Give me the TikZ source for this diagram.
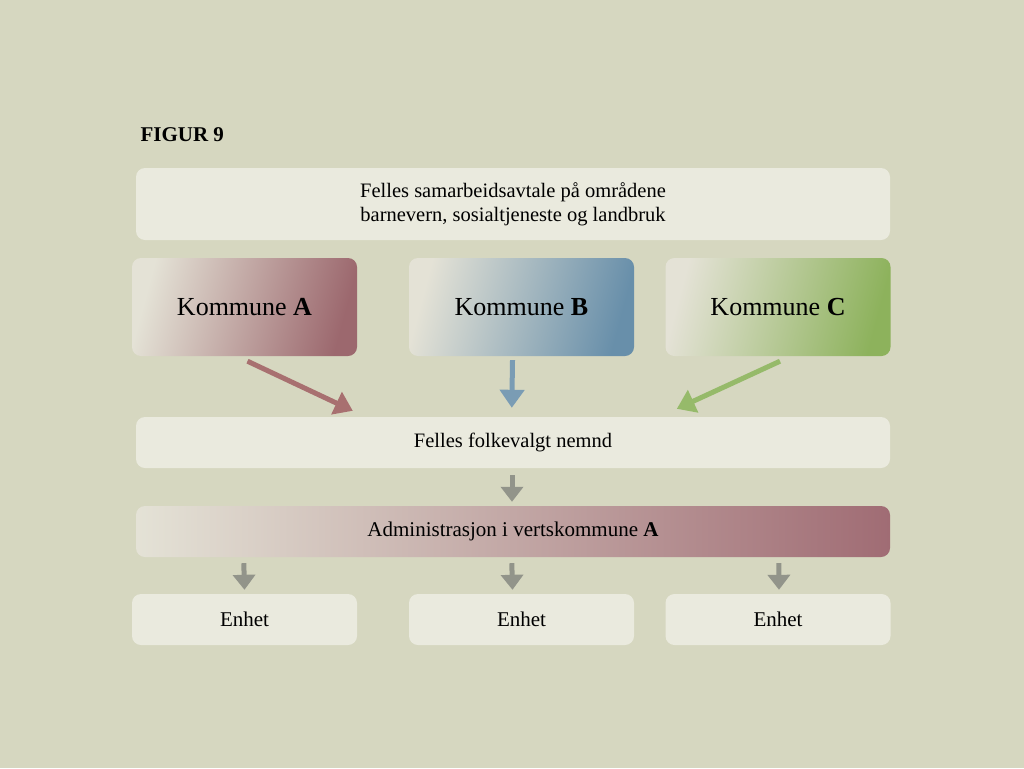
\documentclass[tikz,border=0pt]{standalone}
\usepackage{fontspec}
\setmainfont{Liberation Serif}
\usetikzlibrary{arrows.meta,calc}
\definecolor{bg}{RGB}{214,215,192}
\definecolor{boxfill}{RGB}{234,234,222}
\definecolor{lightend}{RGB}{228,226,214}
\definecolor{kAdark}{RGB}{156,104,110}
\definecolor{kBdark}{RGB}{104,143,170}
\definecolor{kCdark}{RGB}{141,178,92}
\definecolor{admdark}{RGB}{160,108,116}
\definecolor{arrA}{RGB}{168,112,112}
\definecolor{arrB}{RGB}{122,156,180}
\definecolor{arrC}{RGB}{150,186,106}
\definecolor{arrG}{RGB}{146,148,138}
\tikzset{
  x=1pt,y=-1pt,
  wide/.style={rounded corners=9pt, minimum width=754pt, inner sep=0pt, text=black},
  kbox/.style={rounded corners=9pt, minimum width=225pt, minimum height=98pt, inner sep=0pt, font=\fontsize{26}{30}\selectfont},
  ebox/.style={rounded corners=9pt, fill=boxfill, minimum width=225pt, minimum height=51pt, inner sep=0pt, font=\fontsize{21}{24}\selectfont},
  flow/.style={line width=5pt, -{Triangle[width=24pt,length=18pt]}},
  gflow/.style={line width=5pt, draw=arrG, -{Triangle[width=22pt,length=15pt]}}
}
\begin{document}
\begin{tikzpicture}
\fill[bg] (0,0) rectangle (1024,768);
\useasboundingbox (0,0) rectangle (1024,768);
\node[anchor=west, font=\fontsize{21}{24}\selectfont\bfseries] (fig) at (137,135) {FIGUR 9};
\node[wide, fill=boxfill, minimum height=72pt, align=center, font=\fontsize{20.5}{24}\selectfont] (top) at (513,204) {Felles samarbeidsavtale på områdene\\barnevern, sosialtjeneste og landbruk};
\node[kbox, left color=lightend, right color=kAdark, shading angle=75] (kA) at (244.5,307) {Kommune \textbf{A}};
\node[kbox, left color=lightend, right color=kBdark, shading angle=75] (kB) at (521.5,307) {Kommune \textbf{B}};
\node[kbox, left color=lightend, right color=kCdark, shading angle=75] (kC) at (778,307) {Kommune \textbf{C}};
\node[wide, fill=boxfill, minimum height=51pt, font=\fontsize{20.5}{24}\selectfont] (nemnd) at (513,442.5) {Felles folkevalgt nemnd};
\node[wide, left color=lightend, right color=admdark, minimum height=51pt, font=\fontsize{21}{24}\selectfont] (adm) at (513,531.5) {Administrasjon i vertskommune \textbf{A}};
\node[ebox] (e1) at (244.5,619.5) {Enhet};
\node[ebox] (e2) at (521.5,619.5) {Enhet};
\node[ebox] (e3) at (778,619.5) {Enhet};
\draw[flow, draw=arrA, arrA] ($(kA.south)+(3,5)$) -- ($(nemnd.north west)+(217,-6)$);
\draw[flow, draw=arrB, arrB] ($(kB.south)+(-9,4)$) -- ($(nemnd.north west)+(376,-9)$);
\draw[flow, draw=arrC, arrC] ($(kC.south)+(2,5)$) -- ($(nemnd.north west)+(541,-8)$);
\draw[gflow, arrG] ($(nemnd.south)+(-1,7)$) -- ($(adm.north)+(-1,-4)$);
\draw[gflow, arrG] ($(adm.south west)+(108,6)$) -- ($(e1.north)+(0,-4)$);
\draw[gflow, arrG] ($(adm.south west)+(376,6)$) -- ($(e2.north)+(-9,-4)$);
\draw[gflow, arrG] ($(adm.south west)+(643,6)$) -- ($(e3.north)+(1,-4)$);
\end{tikzpicture}
\end{document}
